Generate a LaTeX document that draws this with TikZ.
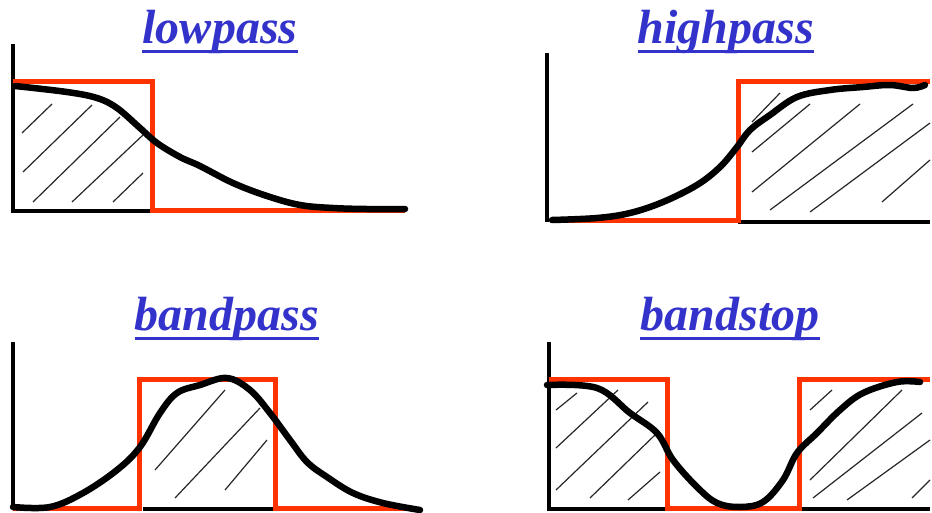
\documentclass[tikz,border=0pt]{standalone}
\usepackage{fontspec}
\setmainfont{Liberation Serif}
\definecolor{ttl}{RGB}{51,51,204}
\definecolor{rd}{RGB}{255,51,0}
\begin{document}
\begin{tikzpicture}[x=1pt,y=-1pt,
  ttlstyle/.style={anchor=base,inner sep=0pt,text=ttl,font=\fontsize{48}{52}\selectfont\bfseries\itshape},
  axis/.style={line width=4pt,black},
  ideal/.style={line width=5pt,rd,line join=miter},
  resp/.style={line width=6.5pt,black,line cap=round,line join=round},
  hatch/.style={line width=1.2pt,black!85}]
\useasboundingbox (0,0) rectangle (932,512);
% ---------- titles ----------
\foreach \n/\t/\x/\y in {tl/lowpass/220/43, th/highpass/726/43, tb/bandpass/227/330, ts/bandstop/730/330}{
  \node[ttlstyle] (\n) at (\x,\y) {\t};
  \draw[ttl,line width=3pt] ([yshift=-8pt]\n.base west) -- ([yshift=-8pt]\n.base east);
}
% ---------- lowpass ----------
\draw[hatch] (22,133)--(52,104) (23,172)--(92,105) (33,202)--(120,117) (72,202)--(143,135) (113,202)--(143,173);
\draw[axis] (13,44)--(13,211)--(152,211);
\draw[ideal] (13,81)--(152,81)--(152,210)--(405,210);
\draw[resp] plot[smooth,tension=0.6] coordinates {(15,86) (67,92) (97,98) (117,108) (140,128) (157,143) (180,157) (200,166) (233,183) (267,196) (300,205) (333,208) (367,209) (405,209)};
% ---------- highpass ----------
\draw[hatch] (752,122)--(780,93) (752,152)--(810,104) (752,192)--(860,104) (770,210)--(913,104) (810,212)--(930,123) (882,202)--(930,160);
\draw[axis] (547,53)--(547,222) (738,222)--(930,222);
\draw[ideal] (550,220)--(738,220)--(738,81)--(930,81);
\draw[resp] plot[smooth,tension=0.6] coordinates {(552,220) (597,218) (630,213) (663,202) (697,185) (720,167) (737,147) (750,130) (770,115) (797,97) (830,90) (863,87) (890,85) (913,88) (925,85)};
% ---------- bandpass ----------
\draw[hatch] (155,470)--(225,390) (175,498)--(260,408) (225,490)--(267,440);
\draw[axis] (13,342)--(13,509) (143,509)--(275,509);
\draw[ideal] (13,508)--(139,508)--(139,379)--(275,379)--(275,508)--(415,508);
\draw[resp] plot[smooth,tension=0.6] coordinates {(13,507) (50,507) (83,493) (117,470) (140,447) (160,413) (177,393) (200,385) (227,378) (250,390) (270,413) (290,440) (307,462) (327,477) (353,493) (383,503) (420,510)};
% ---------- bandstop ----------
\draw[hatch] (556,410)--(577,393) (556,448)--(618,390) (556,490)--(648,402) (590,498)--(657,433) (628,500)--(660,472);
\draw[hatch] (810,410)--(832,390) (810,480)--(902,390) (813,498)--(922,413) (847,500)--(930,440) (912,498)--(930,480);
\draw[axis] (549,342)--(549,509)--(667,509) (799,509)--(930,509);
\draw[ideal] (549,379)--(667,379)--(667,508)--(799,508)--(799,379)--(930,379);
\draw[resp] plot[smooth,tension=0.6] coordinates {(547,385) (597,388) (630,413) (657,433) (673,460) (697,487) (717,503) (740,507) (763,502) (783,480) (797,453) (817,433) (840,410) (863,393) (897,382) (920,382)};
\end{tikzpicture}
\end{document}
